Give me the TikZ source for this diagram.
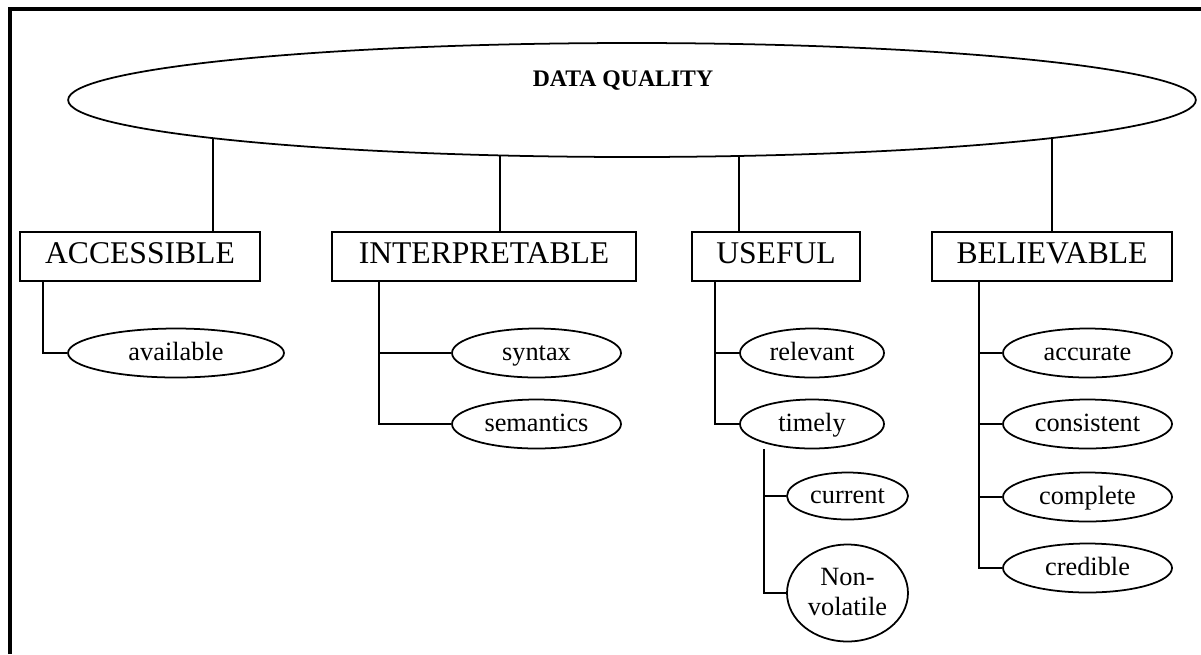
\documentclass[tikz,border=0pt]{standalone}
\usepackage{fontspec}
\setmainfont{Liberation Serif}
\usetikzlibrary{
	shapes,
}
\tikzset{group node/.style={draw,rectangle,inner sep=0mm,minimum height=0.98cm,font=\fontsize{18}{21}\selectfont,text height=12pt,text depth=4.6pt,}}
\tikzset{item node/.style={draw,ellipse,inner sep=0mm,minimum height=0.98cm,font=\fontsize{15}{17}\selectfont,text height=11pt,text depth=2pt,}}
\tikzset{frame/.style={line width=1.9pt,}}
\tikzset{
	x=0.02cm,
	y=-0.02cm,
}

\begin{document}
\begin{tikzpicture}[line width=1pt]
\useasboundingbox (0,0) rectangle (1201,654);
\draw[frame] (10,654) -- (10,9) -- (1201,9);

\coordinate (dqc) at (632,100);

\node[group node,minimum width=4.8cm](acc) at (140,256.5){ACCESSIBLE};
\node[group node,minimum width=6.08cm](int) at (484,256.5){INTERPRETABLE};
\node[group node,minimum width=3.36cm](use) at (776,256.5){USEFUL};
\node[group node,minimum width=4.8cm](bel) at (1052,256.5){BELIEVABLE};

% stems, their tops hidden by the big ellipse
\draw ([xshift=-0.96cm]acc.north east) -- ([xshift=-0.96cm]acc.north east |- dqc);
\draw ([xshift=0.32cm]int.north) -- ([xshift=0.32cm]int.north |- dqc);
\draw ([xshift=0.96cm]use.north west) -- ([xshift=0.96cm]use.north west |- dqc);
\draw (bel.north) -- (bel.north |- dqc);

\node[draw,ellipse,fill=white,inner sep=0mm,minimum width=22.56cm,minimum height=2.28cm](dq) at (dqc){};
\node[font=\fontsize{13.5}{15}\selectfont\bfseries](title) at (623,81){DATA QUALITY};

\node[item node,minimum width=4.32cm](avail) at (176,353){available};
\node[item node,minimum width=3.38cm](syntax) at (536.5,353){syntax};
\node[item node,minimum width=3.38cm](sem) at (536.5,424){semantics};
\node[item node,minimum width=2.88cm](rel) at (812,353){relevant};
\node[item node,minimum width=2.88cm](timely) at (812,424){timely};
\node[item node,minimum width=2.42cm,minimum height=0.94cm](cur) at (847.5,496){current};
\node[item node,minimum width=2.42cm,minimum height=1.94cm,align=center,text height=28pt,text depth=2pt](nonvol) at (847.5,593){Non-\\volatile};
\node[item node,minimum width=3.38cm](acc2) at (1087.5,353){accurate};
\node[item node,minimum width=3.38cm](cons) at (1087.5,424){consistent};
\node[item node,minimum width=3.38cm](compl) at (1087.5,497){complete};
\node[item node,minimum width=3.38cm](cred) at (1087.5,568){credible};

\draw ([xshift=0.48cm]acc.south west) |- (avail.west);

\draw ([xshift=0.96cm]int.south west) |- (syntax.west);
\draw ([xshift=0.96cm]int.south west) |- (sem.west);

\draw ([xshift=0.48cm]use.south west) |- (rel.west);
\draw ([xshift=0.48cm]use.south west) |- (timely.west);

\draw ([xshift=-0.96cm]timely.south) |- (cur.west);
\draw ([xshift=-0.96cm]timely.south) |- (nonvol.west);

\draw ([xshift=0.96cm]bel.south west) |- (acc2.west);
\draw ([xshift=0.96cm]bel.south west) |- (cons.west);
\draw ([xshift=0.96cm]bel.south west) |- (compl.west);
\draw ([xshift=0.96cm]bel.south west) |- (cred.west);
\end{tikzpicture}
\end{document}
